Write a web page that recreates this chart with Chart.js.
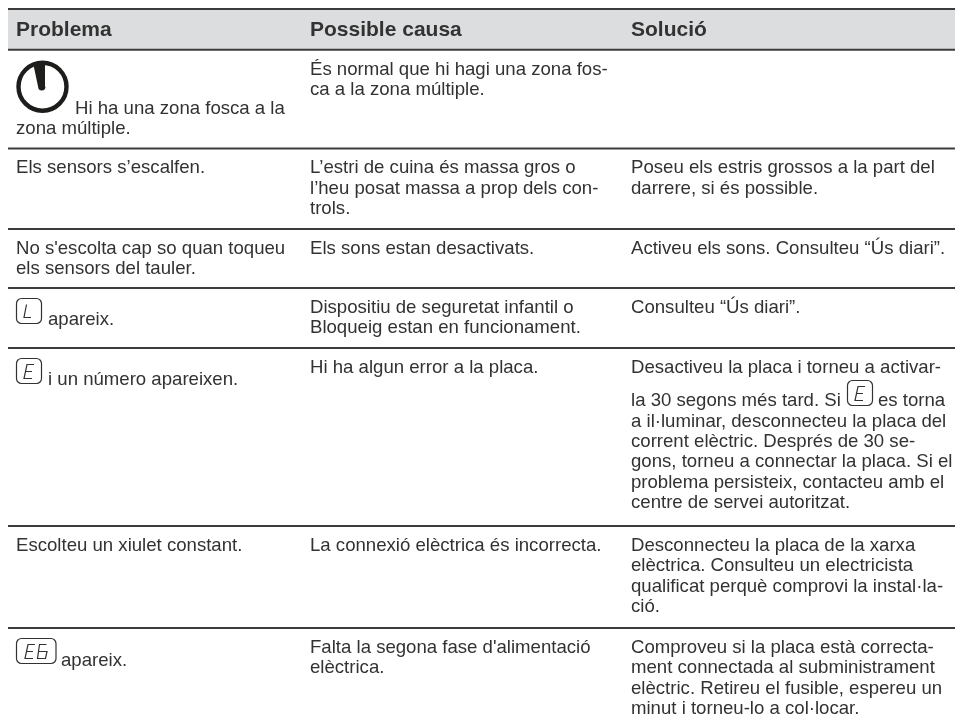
<!DOCTYPE html>
<html>
<head>
<meta charset="utf-8">
<style>
  html, body { margin: 0; background: #fff; }
  #wrap { width: 955px; height: 726px; }
</style>
<script src="https://cdn.jsdelivr.net/npm/chart.js@4/dist/chart.umd.min.js"></script>
</head>
<body>
<div id="wrap"><canvas id="table"></canvas></div>
<script>
const headers = ['Problema', 'Possible causa', 'Solució'];

// one entry per table row, each cell is a list of printed lines
const problems = [
    ['Hi ha una zona fosca a la', 'zona múltiple.'],
    ['Els sensors s’escalfen.'],
    ["No s'escolta cap so quan toqueu", 'els sensors del tauler.'],
    ['apareix.'],
    ['i un número apareixen.'],
    ['Escolteu un xiulet constant.'],
    ['apareix.']
];
const causes = [
    ['És normal que hi hagi una zona fos-', 'ca a la zona múltiple.'],
    ['L’estri de cuina és massa gros o', 'l’heu posat massa a prop dels con-', 'trols.'],
    ['Els sons estan desactivats.'],
    ['Dispositiu de seguretat infantil o', 'Bloqueig estan en funcionament.'],
    ['Hi ha algun error a la placa.'],
    ['La connexió elèctrica és incorrecta.'],
    ["Falta la segona fase d'alimentació", 'elèctrica.']
];
const solutions = [
    [],
    ['Poseu els estris grossos a la part del', 'darrere, si és possible.'],
    ['Activeu els sons. Consulteu “Ús diari”.'],
    ['Consulteu “Ús diari”.'],
    ['Desactiveu la placa i torneu a activar-', 'la 30 segons més tard. Si', 'a il·luminar, desconnecteu la placa del',
     'corrent elèctric. Després de 30 se-', 'gons, torneu a connectar la placa. Si el',
     'problema persisteix, contacteu amb el', 'centre de servei autoritzat.'],
    ['Desconnecteu la placa de la xarxa', 'elèctrica. Consulteu un electricista', 'qualificat perquè comprovi la instal·la-', 'ció.'],
    ['Comproveu si la placa està correcta-', 'ment connectada al subministrament', 'elèctric. Retireu el fusible, espereu un', 'minut i torneu-lo a col·locar.']
];

// horizontal rules, in page units of the y axis
const ruleLevels = [9, 49.7, 148.5, 229, 288, 348, 526, 628];
const tableEdges = [8, 955];
const columnStarts = [16, 310, 631];

const INK = '#333232';
const RULE = '#3c3c3c';
const BAND = '#dcddde';
const BODY_FONT = '18.6px "Liberation Sans", Arial, sans-serif';
const HEAD_FONT = 'bold 21px "Liberation Sans", Arial, sans-serif';
const PITCH = 20.4;

function drawBox(ctx, x, y, w, h) {
    ctx.beginPath();
    ctx.roundRect(x, y, w, h, 5);
    ctx.stroke();
}

// seven segment letters inside the little display boxes
function drawSegments(ctx, letter, x, y) {
    const paths = {
        E: [[10, 0], [3, 0], [1.5, 7], [8, 7], [1.5, 7], [0, 14], [8, 14]],
        L: [[2.5, 0], [0, 13], [7, 13]],
        6: [[9, 0], [2, 0], [0, 14], [8, 14], [9.5, 7], [1.5, 7]]
    };
    ctx.beginPath();
    paths[letter].forEach((p, i) => {
        if (i === 0) ctx.moveTo(x + p[0], y + p[1]);
        else ctx.lineTo(x + p[0], y + p[1]);
    });
    ctx.stroke();
}

function drawDisplay(ctx, scales, letters, left, top) {
    const x = scales.x.getPixelForValue(left);
    const y = scales.y.getPixelForValue(top);
    const w = letters.length === 1 ? 25 : 39.5;
    ctx.save();
    ctx.strokeStyle = INK;
    ctx.lineWidth = 1.2;
    drawBox(ctx, x + 0.5, y + 0.5, w, 25);
    letters.split('').forEach((l, i) => drawSegments(ctx, l, x + (letters.length === 1 ? 8 : 9) + i * 12.5, y + 6.5));
    ctx.restore();
}

function drawClock(ctx, scales) {
    const cx = scales.x.getPixelForValue(42.5);
    const cy = scales.y.getPixelForValue(86.7);
    ctx.save();
    ctx.strokeStyle = '#1d1d1b';
    ctx.fillStyle = '#1d1d1b';
    ctx.lineWidth = 4.4;
    ctx.beginPath();
    ctx.arc(cx, cy, 24, 0, Math.PI * 2);
    ctx.stroke();
    ctx.beginPath();
    ctx.moveTo(cx - 9.5, cy - 24);
    ctx.lineTo(cx + 2.5, cy - 24);
    ctx.lineTo(cx + 2.5, cy);
    ctx.arc(cx - 0.7, cy, 3.7, 0, Math.PI);
    ctx.closePath();
    ctx.fill();
    ctx.restore();
}

const cellText = {
    id: 'cellText',
    afterDatasetsDraw(chart) {
        const { ctx, scales } = chart;
        const put = (str, xv, yv) => ctx.fillText(str, scales.x.getPixelForValue(xv), scales.y.getPixelForValue(yv));

        ctx.save();
        ctx.fillStyle = INK;
        ctx.textBaseline = 'alphabetic';
        ctx.font = HEAD_FONT;
        headers.forEach((h, c) => put(h, columnStarts[c], 35.5));

        ctx.font = BODY_FONT;
        [causes, solutions].forEach((column, c) => {
            column.forEach((lines, r) => {
                lines.forEach((line, i) => {
                    let base = ruleLevels[r + 1] + 24.8 + i * PITCH;
                    if (column === solutions && r === 4 && i > 0) base += 13;
                    put(line, columnStarts[c + 1], base);
                });
            });
        });
        // the solution line with a display box in the middle of it
        put('es torna', 878, 406);

        // first column: some lines start after an icon
        put(problems[0][0], 75, 113.5);
        put(problems[0][1], columnStarts[0], 134);
        put(problems[1][0], columnStarts[0], 173.3);
        put(problems[2][0], columnStarts[0], 253.8);
        put(problems[2][1], columnStarts[0], 274.2);
        put(problems[3][0], 48, 324.5);
        put(problems[4][0], 48, 384.5);
        put(problems[5][0], columnStarts[0], 550.8);
        put(problems[6][0], 61, 665.5);
        ctx.restore();

        drawClock(ctx, scales);
        drawDisplay(ctx, scales, 'L', 16, 298);
        drawDisplay(ctx, scales, 'E', 16, 358);
        drawDisplay(ctx, scales, 'E', 847, 380);
        drawDisplay(ctx, scales, 'E6', 16, 638);
    }
};

const edgePoints = y => tableEdges.map(x => ({ x, y }));

new Chart(document.getElementById('table'), {
    type: 'scatter',
    data: {
        datasets: [
            {
                label: 'header',
                showLine: true,
                order: 1,
                data: edgePoints(ruleLevels[0]),
                fill: { value: ruleLevels[1] },
                backgroundColor: BAND,
                borderWidth: 0,
                pointRadius: 0
            },
            ...ruleLevels.map((y, i) => ({
                label: 'rule ' + i,
                showLine: true,
                order: 0,
                data: edgePoints(y),
                borderColor: RULE,
                borderWidth: 2,
                pointRadius: 0
            }))
        ]
    },
    options: {
        responsive: true,
        maintainAspectRatio: false,
        animation: false,
        layout: { padding: 0 },
        plugins: {
            legend: { display: false },
            tooltip: { enabled: false }
        },
        scales: {
            x: { type: 'linear', min: 0, max: 955, display: false },
            y: { type: 'linear', min: 0, max: 726, reverse: true, display: false }
        }
    },
    plugins: [cellText]
});
</script>
</body>
</html>
